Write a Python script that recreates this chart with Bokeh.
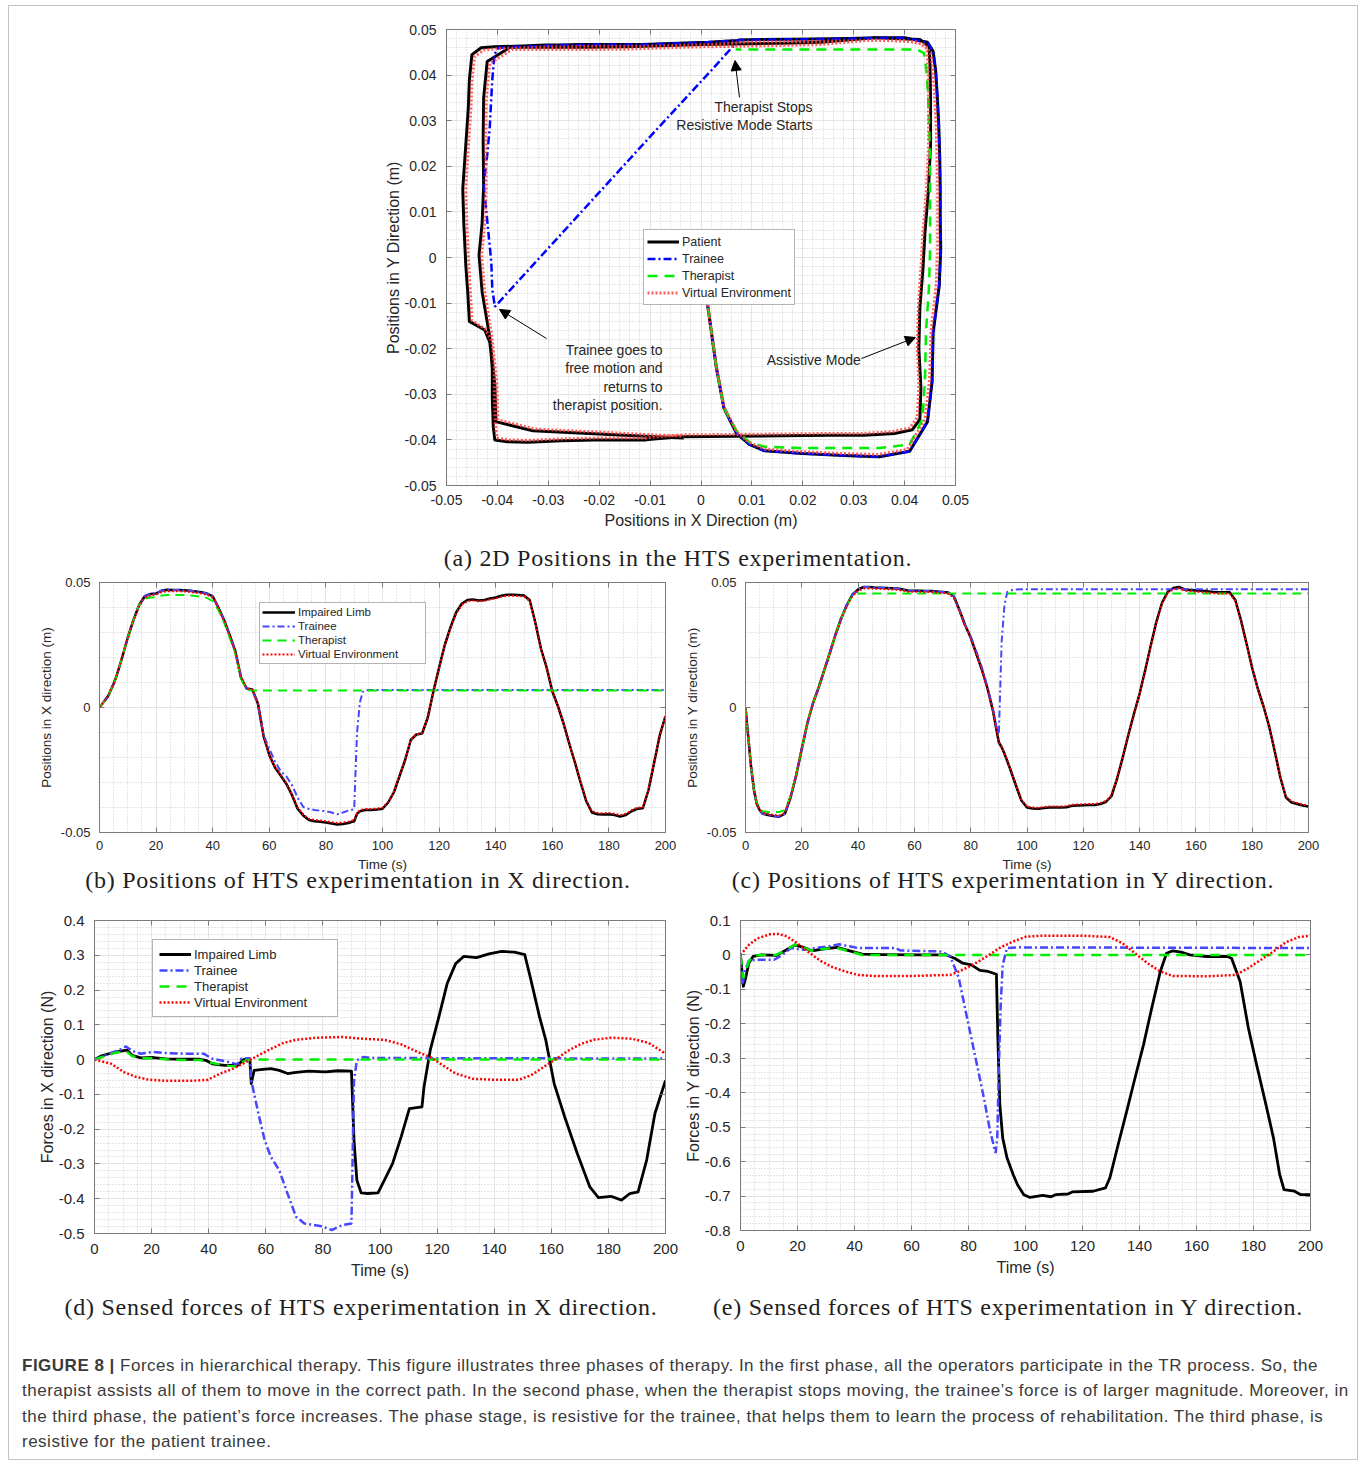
from bokeh.plotting import figure
from bokeh.models import (Range1d, FixedTicker, CustomJSTickFormatter, LinearAxis,
                          Legend, LegendItem, Label, Arrow, NormalHead, Div, Spacer)
from bokeh.layouts import column, row
from bokeh.embed import file_html
from bokeh.resources import INLINE

# ------------------------------------------------------------------ data
# common time grid (s) for the position records
t_pos = [0, 1, 2, 3, 4, 5, 6,
         8, 10, 12, 14, 16, 18, 20, 22, 24, 26,
         28, 30, 32, 34, 36, 38, 40, 42, 44, 46,
         48, 50, 52, 54, 56, 58, 60, 62, 64, 66,
         68, 70, 72, 74, 76, 78, 80, 82, 84, 86,
         88, 89, 90, 91, 92, 93, 94, 96, 98, 100,
         102, 104, 106, 108, 110, 112, 114, 116, 118, 120,
         122, 124, 126, 128, 130, 132, 134, 136, 138, 140,
         142, 144, 146, 148, 150, 152, 154, 156, 158, 160,
         162, 164, 166, 168, 170, 172, 174, 176, 178, 180,
         182, 184, 186, 188, 190, 192, 194, 196, 198, 200]

# positions (m) - patient / impaired limb
patient_x = [0.0, 0.0015, 0.0030, 0.0045, 0.0070, 0.0095, 0.0125,
             0.0200, 0.0280, 0.0350, 0.0410, 0.0445, 0.0454, 0.0456, 0.0468, 0.0471, 0.0470,
             0.0470, 0.0469, 0.0467, 0.0464, 0.0461, 0.0456, 0.0445, 0.0400, 0.0350, 0.0290,
             0.0225, 0.0120, 0.0076, 0.0072, 0.0015, -0.0116, -0.0190, -0.0240, -0.0272, -0.0305,
             -0.0350, -0.0405, -0.0432, -0.0450, -0.0455, -0.0457, -0.0460, -0.0464, -0.0468, -0.0466,
             -0.0462, -0.0458, -0.0455, -0.0425, -0.0415, -0.0412, -0.0410, -0.0410, -0.0408, -0.0405,
             -0.0380, -0.0340, -0.0275, -0.0210, -0.0130, -0.0108, -0.0104, -0.0040, 0.0065, 0.0160,
             0.0250, 0.0320, 0.0380, 0.0415, 0.0430, 0.0432, 0.0428, 0.0430, 0.0436, 0.0440,
             0.0447, 0.0451, 0.0451, 0.0450, 0.0448, 0.0430, 0.0340, 0.0235, 0.0160, 0.0065,
             0.0005, -0.0065, -0.0145, -0.0220, -0.0300, -0.0375, -0.0420, -0.0427, -0.0428, -0.0427,
             -0.0430, -0.0436, -0.0430, -0.0415, -0.0405, -0.0403, -0.0330, -0.0220, -0.0110, -0.0034]
patient_y = [0.0, -0.0120, -0.0240, -0.0330, -0.0386, -0.0410, -0.0424,
             -0.0430, -0.0434, -0.0437, -0.0425, -0.0360, -0.0272, -0.0165, -0.0062, 0.0018, 0.0080,
             0.0150, 0.0220, 0.0293, 0.0357, 0.0410, 0.0452, 0.0472, 0.0482, 0.0482, 0.0480,
             0.0479, 0.0478, 0.0477, 0.0476, 0.0472, 0.0467, 0.0467, 0.0467, 0.0466, 0.0466,
             0.0464, 0.0462, 0.0460, 0.0445, 0.0390, 0.0330, 0.0280, 0.0215, 0.0150, 0.0075,
             -0.0018, -0.0080, -0.0140, -0.0159, -0.0185, -0.0215, -0.0245, -0.0310, -0.0372, -0.0400,
             -0.0404, -0.0405, -0.0402, -0.0400, -0.0400, -0.0400, -0.0399, -0.0393, -0.0392, -0.0391,
             -0.0390, -0.0390, -0.0386, -0.0378, -0.0355, -0.0285, -0.0200, -0.0110, -0.0025, 0.0055,
             0.0150, 0.0250, 0.0345, 0.0420, 0.0463, 0.0478, 0.0482, 0.0472, 0.0470, 0.0468,
             0.0467, 0.0465, 0.0462, 0.0461, 0.0461, 0.0461, 0.0430, 0.0350, 0.0255, 0.0158,
             0.0075, 0.0005, -0.0075, -0.0175, -0.0280, -0.0360, -0.0380, -0.0386, -0.0392, -0.0396]

# positions (m) - trainee
trainee_x = [0.0, 0.0015, 0.0030, 0.0045, 0.0070, 0.0095, 0.0125,
             0.0200, 0.0280, 0.0350, 0.0410, 0.0445, 0.0454, 0.0456, 0.0468, 0.0471, 0.0470,
             0.0470, 0.0469, 0.0467, 0.0464, 0.0461, 0.0456, 0.0445, 0.0400, 0.0350, 0.0290,
             0.0225, 0.0120, 0.0076, 0.0072, 0.0010, -0.0110, -0.0165, -0.0215, -0.0255, -0.0275,
             -0.0310, -0.0360, -0.0398, -0.0406, -0.0410, -0.0413, -0.0415, -0.0420, -0.0427, -0.0420,
             -0.0412, -0.0410, -0.0405, -0.0100, 0.0020, 0.0062, 0.0069, 0.0070, 0.0070, 0.0070] + [0.0070] * 50
trainee_y = [0.0, -0.0120, -0.0240, -0.0330, -0.0386, -0.0410, -0.0424,
             -0.0430, -0.0434, -0.0437, -0.0425, -0.0360, -0.0272, -0.0165, -0.0062, 0.0018, 0.0080,
             0.0150, 0.0220, 0.0293, 0.0357, 0.0410, 0.0452, 0.0472, 0.0482, 0.0482, 0.0480,
             0.0479, 0.0478, 0.0477, 0.0476, 0.0472, 0.0467, 0.0467, 0.0467, 0.0466, 0.0466,
             0.0464, 0.0462, 0.0460, 0.0445, 0.0390, 0.0330, 0.0285, 0.0225, 0.0160, 0.0082,
             -0.0010, -0.0070, -0.0108, 0.0265, 0.0410, 0.0462, 0.0468, 0.0472, 0.0473, 0.0473] + [0.0473] * 50

# positions (m) - therapist
therapist_x = [0.0, 0.0015, 0.0030, 0.0045, 0.0070, 0.0095, 0.0125,
               0.0200, 0.0280, 0.0350, 0.0410, 0.0435, 0.0440, 0.0442, 0.0448, 0.0450, 0.0450,
               0.0450, 0.0450, 0.0448, 0.0446, 0.0443, 0.0438, 0.0425, 0.0390, 0.0340, 0.0280,
               0.0215, 0.0115, 0.0072, 0.0068] + [0.0068] * 76
therapist_y = [0.0, -0.0120, -0.0240, -0.0330, -0.0380, -0.0405, -0.0415,
               -0.0418, -0.0418, -0.0418, -0.0410, -0.0355, -0.0268, -0.0165, -0.0062, 0.0018, 0.0080,
               0.0150, 0.0220, 0.0293, 0.0357, 0.0408, 0.0448, 0.0456] + [0.0456] * 84

# positions (m) - virtual environment
virtual_x = [0.0, 0.0015, 0.0030, 0.0045, 0.0070, 0.0095, 0.0125,
             0.0200, 0.0280, 0.0348, 0.0405, 0.0440, 0.0449, 0.0452, 0.0462, 0.0465, 0.0465,
             0.0465, 0.0464, 0.0462, 0.0459, 0.0456, 0.0451, 0.0440, 0.0398, 0.0348, 0.0288,
             0.0222, 0.0120, 0.0076, 0.0072, 0.0015, -0.0114, -0.0188, -0.0238, -0.0268, -0.0302,
             -0.0347, -0.0400, -0.0427, -0.0445, -0.0450, -0.0452, -0.0455, -0.0459, -0.0462, -0.0460,
             -0.0456, -0.0453, -0.0450, -0.0424, -0.0411, -0.0408, -0.0406, -0.0406, -0.0404, -0.0401,
             -0.0377, -0.0338, -0.0273, -0.0208, -0.0129, -0.0107, -0.0103, -0.0040, 0.0064, 0.0158,
             0.0247, 0.0316, 0.0375, 0.0410, 0.0425, 0.0428, 0.0425, 0.0427, 0.0432, 0.0436,
             0.0443, 0.0447, 0.0447, 0.0446, 0.0444, 0.0426, 0.0337, 0.0233, 0.0158, 0.0064,
             0.0005, -0.0064, -0.0143, -0.0218, -0.0297, -0.0371, -0.0415, -0.0422, -0.0423, -0.0422,
             -0.0425, -0.0431, -0.0425, -0.0411, -0.0401, -0.0399, -0.0327, -0.0218, -0.0109, -0.0034]
virtual_y = [0.0, -0.0119, -0.0238, -0.0327, -0.0382, -0.0406, -0.0420,
             -0.0426, -0.0430, -0.0432, -0.0421, -0.0356, -0.0269, -0.0163, -0.0061, 0.0018, 0.0079,
             0.0149, 0.0218, 0.0290, 0.0353, 0.0406, 0.0447, 0.0467, 0.0476, 0.0476, 0.0475,
             0.0474, 0.0473, 0.0472, 0.0471, 0.0467, 0.0463, 0.0463, 0.0463, 0.0462, 0.0462,
             0.0460, 0.0458, 0.0455, 0.0440, 0.0386, 0.0327, 0.0277, 0.0213, 0.0149, 0.0074,
             -0.0018, -0.0079, -0.0138, -0.0157, -0.0183, -0.0212, -0.0242, -0.0307, -0.0368, -0.0396,
             -0.0400, -0.0401, -0.0398, -0.0396, -0.0396, -0.0396, -0.0395, -0.0389, -0.0388, -0.0387,
             -0.0386, -0.0386, -0.0382, -0.0374, -0.0351, -0.0282, -0.0198, -0.0109, -0.0025, 0.0054,
             0.0148, 0.0247, 0.0341, 0.0416, 0.0458, 0.0473, 0.0477, 0.0467, 0.0465, 0.0463,
             0.0462, 0.0460, 0.0457, 0.0456, 0.0456, 0.0456, 0.0426, 0.0347, 0.0252, 0.0156,
             0.0074, 0.0005, -0.0074, -0.0173, -0.0277, -0.0356, -0.0376, -0.0382, -0.0388, -0.0392]

# forces in X (N)
fx_limb_t = [0, 2.2, 5.9, 9.6, 11.5, 13.2, 16.2, 20.6, 25, 30.9, 36.8, 39, 41.2, 45.6, 50, 52.2, 54.4,
             54.9, 55.9, 58.1, 61.8, 64.7, 67.6, 70.6, 75, 80.9, 85.3, 90, 90.9, 91.9, 93.4, 95.6,
             99.3, 101.5, 104.4, 107.4, 110.3, 114.7, 115.4, 117.6, 120.6, 123.5, 126.5, 129.4,
             133.8, 138.2, 142.6, 147.1, 150.7, 152.9, 155.9, 158.1, 161, 164.7, 169.1, 173.5,
             176.5, 180.9, 184.6, 187.5, 190.4, 193.4, 196.3, 200]
fx_limb = [0, 0.010, 0.019, 0.025, 0.027, 0.012, 0.005, 0.006, 0.002, 0.001, 0.001, -0.002, -0.012,
           -0.0165, -0.017, 0.0, 0.003, -0.069, -0.031, -0.029, -0.026, -0.031, -0.040, -0.037,
           -0.033, -0.035, -0.032, -0.033, -0.232, -0.347, -0.383, -0.385, -0.383, -0.347, -0.299,
           -0.222, -0.141, -0.136, -0.079, 0.027, 0.122, 0.218, 0.276, 0.297, 0.293, 0.304, 0.311,
           0.309, 0.302, 0.228, 0.122, 0.055, -0.069, -0.165, -0.270, -0.366, -0.397, -0.393,
           -0.404, -0.385, -0.380, -0.289, -0.155, -0.060]
fx_trainee_t = [0, 4.4, 7.4, 9.6, 11, 13.2, 16.2, 20.6, 25, 30.9, 38.2, 41.2, 47, 50, 51.5, 54.4,
                54.9, 55.9, 57.4, 59.6, 61.8, 64.7, 67.6, 70.6, 73.5, 79.4, 83.1, 86.8, 90, 90.9,
                91.9, 94.1, 97.1, 200]
fx_trainee = [0, 0.015, 0.024, 0.031, 0.038, 0.025, 0.017, 0.022, 0.019, 0.017, 0.017, 0.003,
              -0.007, -0.0136, 0.003, 0.004, -0.060, -0.098, -0.155, -0.232, -0.280, -0.318,
              -0.385, -0.452, -0.471, -0.479, -0.490, -0.476, -0.471, -0.060, -0.002, 0.0075,
              0.0046, 0.003]
fx_therapist_t = [0, 4.4, 7.4, 9.6, 11, 13.2, 16.2, 20.6, 25, 30.9, 36.8, 41.2, 47, 50, 52.2, 54.4, 200]
fx_therapist = [0, 0.012, 0.020, 0.022, 0.024, 0.010, 0.004, 0.004, 0.001, -0.001, -0.001, -0.010,
                -0.018, -0.020, -0.005, 0.0, 0.0]
fx_virtual_t = [0, 5.9, 10.3, 14.7, 19.1, 25, 33.8, 39.7, 44.1, 48.5, 52.9, 57.4, 61.8, 66.2, 70.6,
                77.9, 86.8, 94.1, 101.5, 107.4, 113.2, 117.6, 122, 126.5, 132.4, 139.7, 148.5,
                152.9, 157.4, 161.8, 166.2, 170.6, 175, 180.9, 188.2, 194.1, 198.5, 200]
fx_virtual = [0, -0.012, -0.036, -0.050, -0.058, -0.061, -0.061, -0.058, -0.040, -0.026, -0.008,
              0.012, 0.031, 0.048, 0.057, 0.063, 0.065, 0.060, 0.057, 0.044, 0.022, 0.0075,
              -0.0165, -0.040, -0.055, -0.058, -0.058, -0.045, -0.021, 0.003, 0.027, 0.046, 0.057,
              0.063, 0.060, 0.048, 0.025, 0.017]

# forces in Y (N)
fy_limb_t = [0, 1, 1.8, 2.9, 4.4, 7.4, 12.5, 16.2, 19.1, 22.1, 25, 29.5, 33.9, 38.3, 42.7, 50, 60.4,
             72.2, 75.1, 78, 81, 84, 86.9, 89.8, 90.3, 91, 92, 93.5, 95.7, 97.2, 99.4, 101.6, 106,
             109, 110.5, 114.9, 116.4, 123.7, 128.1, 129.6, 132.5, 135.5, 138.4, 141.4, 144.3,
             147.3, 149.5, 151.7, 154.6, 157.6, 163.5, 170.8, 172.3, 175.3, 178.2, 181.1, 184.1,
             187, 189.2, 190.7, 194.4, 196.6, 200]
fy_limb = [0, -0.091, -0.067, -0.024, -0.0045, 0.0, -0.0015, 0.015, 0.029, 0.022, 0.012, 0.018,
           0.022, 0.012, 0.0024, 0.001, 0.0, 0.0, -0.0096, -0.024, -0.029, -0.045, -0.048, -0.056,
           -0.241, -0.435, -0.531, -0.589, -0.638, -0.667, -0.696, -0.704, -0.698, -0.702, -0.696,
           -0.694, -0.688, -0.686, -0.676, -0.647, -0.551, -0.454, -0.358, -0.261, -0.154, -0.048,
           0.005, 0.012, 0.008, 0.0, -0.0045, -0.0045, -0.0096, -0.077, -0.212, -0.319, -0.425,
           -0.531, -0.638, -0.681, -0.686, -0.696, -0.696]
fy_trainee_t = [0, 0.7, 1.5, 2.9, 5.9, 11.8, 14.7, 17.7, 22.1, 26.5, 30.9, 34.6, 38.3, 41.2, 54.5,
                56, 70.7, 73.6, 76.6, 79.5, 82.5, 85.4, 87.6, 89.5, 90.1, 90.6, 91.3, 92, 93.5,
                97.2, 200]
fy_trainee = [0, -0.087, -0.048, -0.017, -0.014, -0.014, 0.0, 0.020, 0.015, 0.020, 0.025, 0.031,
              0.025, 0.020, 0.020, 0.013, 0.010, -0.0045, -0.067, -0.183, -0.300, -0.415, -0.512,
              -0.575, -0.531, -0.338, -0.145, -0.029, 0.020, 0.022, 0.020]
fy_therapist_t = [0, 1, 2.9, 4.4, 7.4, 12.5, 16.2, 19.1, 22.1, 25, 29.5, 33.9, 38.3, 42.7, 200]
fy_therapist = [0, -0.067, -0.020, -0.002, 0.0, 0.0, 0.015, 0.030, 0.022, 0.012, 0.018, 0.020,
                0.010, 0.0, 0.0]
fy_virtual_t = [0, 2.9, 5.9, 10.3, 13.3, 16.2, 19.1, 23.6, 28, 32.4, 36.8, 41.2, 47.1, 60.4, 73.6,
                78, 82.5, 86.9, 91.3, 95.7, 100.1, 106, 119.3, 129.6, 134, 138.4, 142.8, 147.3,
                151.7, 163.5, 173.8, 178.2, 182.6, 187, 191.4, 195.9, 200]
fy_virtual = [0, 0.029, 0.048, 0.060, 0.061, 0.054, 0.039, 0.010, -0.017, -0.036, -0.048, -0.058,
              -0.061, -0.061, -0.058, -0.043, -0.024, -0.0015, 0.022, 0.039, 0.053, 0.056, 0.056,
              0.052, 0.034, 0.005, -0.024, -0.048, -0.061, -0.062, -0.058, -0.038, -0.014, 0.010,
              0.037, 0.052, 0.056]

# tick labels
pos2d_ticks = [-0.05, -0.04, -0.03, -0.02, -0.01, 0, 0.01, 0.02, 0.03, 0.04, 0.05]
time_ticks = [0, 20, 40, 60, 80, 100, 120, 140, 160, 180, 200]
pos_ticks = [-0.05, 0, 0.05]
fx_ticks = [-0.5, -0.4, -0.3, -0.2, -0.1, 0, 0.1, 0.2, 0.3, 0.4]
fy_ticks = [-0.8, -0.7, -0.6, -0.5, -0.4, -0.3, -0.2, -0.1, 0, 0.1]

legend_a = ["Patient", "Trainee", "Therapist", "Virtual Environment"]
legend_t = ["Impaired Limb", "Trainee", "Therapist", "Virtual Environment"]

# ------------------------------------------------------------------ styling
FONT = "Liberation Sans"
SERIF = "Liberation Serif"
TXT = "#262626"
AXC = "#7a7a7a"
GRID = "#e4e4e4"
MINOR = "#cdcdcd"


def steps(a, b, d):
    n = int(round((b - a) / d))
    return [round(a + i * d, 6) for i in range(n + 1)]


def make_fig(fw, fh, xr, yr, borders, xt, xm, yt, ym, tick_fs, lab_fs,
             xlabel, ylabel, x_std, x_lab_std, y_std, y_lab_std):
    bl, br, bt, bb = borders
    p = figure(frame_width=fw, frame_height=fh,
               x_range=Range1d(*xr), y_range=Range1d(*yr),
               output_backend="svg", toolbar_location=None,
               min_border_left=bl, min_border_right=br,
               min_border_top=bt, min_border_bottom=bb,
               background_fill_color="white", border_fill_color="white", margin=0)
    fmt = CustomJSTickFormatter(code="return String(Math.round(tick*1000)/1000);")
    xtick = FixedTicker(ticks=xt, minor_ticks=xm)
    ytick = FixedTicker(ticks=yt, minor_ticks=ym)
    p.xaxis.ticker = xtick
    p.yaxis.ticker = ytick
    p.xgrid.ticker = xtick
    p.ygrid.ticker = ytick
    for g in (p.xgrid[0], p.ygrid[0]):
        g.grid_line_color = GRID
        g.grid_line_width = 1
        g.minor_grid_line_color = MINOR
        g.minor_grid_line_dash = "1 2"
        g.minor_grid_line_width = 1
    for ax, std, lstd in ((p.xaxis[0], x_std, x_lab_std), (p.yaxis[0], y_std, y_lab_std)):
        ax.formatter = fmt
        ax.major_label_text_font = FONT
        ax.major_label_text_font_size = tick_fs
        ax.major_label_text_color = TXT
        ax.axis_label_text_font = FONT
        ax.axis_label_text_font_size = lab_fs
        ax.axis_label_text_font_style = "normal"
        ax.axis_label_text_color = TXT
        ax.axis_line_color = AXC
        ax.major_tick_line_color = AXC
        ax.major_tick_in = 5
        ax.major_tick_out = 0
        ax.minor_tick_line_color = None
        ax.major_label_standoff = std
        ax.axis_label_standoff = lstd
    p.xaxis.axis_label = xlabel
    p.yaxis.axis_label = ylabel
    empty = CustomJSTickFormatter(code="return '';")
    for side, tk in (("right", ytick), ("above", xtick)):
        ax = LinearAxis(ticker=tk, formatter=empty, major_label_text_font_size="1px",
                        major_label_standoff=0, major_tick_in=5, major_tick_out=0,
                        minor_tick_line_color=None, axis_line_color=AXC,
                        major_tick_line_color=AXC)
        p.add_layout(ax, side)
    p.outline_line_color = AXC
    return p


def add_legend(p, items, labels, loc, fs, h, pad, gw, lw):
    leg = Legend(items=[LegendItem(label=l, renderers=[r]) for l, r in zip(labels, items)],
                 location=loc, label_text_font=FONT, label_text_font_size=fs,
                 label_text_color=TXT, label_height=h, glyph_height=h, glyph_width=gw,
                 label_width=lw, label_standoff=3, padding=pad, spacing=0, margin=0,
                 border_line_color="#6a6a6a", border_line_width=1,
                 background_fill_color="white", background_fill_alpha=1.0)
    p.add_layout(leg)


# ------------------------------------------------------------------ (a) 2D positions
pa = make_fig(509, 456, (-0.05, 0.05), (-0.05, 0.05), (70, 15, 23, 50),
              pos2d_ticks, steps(-0.05, 0.05, 0.002), pos2d_ticks, steps(-0.05, 0.05, 0.002),
              "14px", "16px", "Positions in X Direction (m)", "Positions in Y Direction (m)",
              5, 4, 6, 0)
ra1 = pa.line(patient_x, patient_y, line_color="black", line_width=3, line_join="round")
ra2 = pa.line(trainee_x, trainee_y, line_color="#0000ff", line_width=2.5, line_dash="8 3 2 3")
ra3 = pa.line(therapist_x, therapist_y, line_color="#00ee00", line_width=2.5, line_dash="10 7")
ra4 = pa.line(virtual_x, virtual_y, line_color="#ff4040", line_width=3, line_dash="2 2", line_alpha=0.85)
add_legend(pa, [ra1, ra2, ra3, ra4], legend_a, (197, 180), "12.5px", 17, 3, 32, 20)

for txt, x, y, al in [("Therapist Stops", 0.0219, 0.0329, "right"),
                      ("Resistive Mode Starts", 0.0219, 0.02895, "right"),
                      ("Trainee goes to", -0.00756, -0.0202, "right"),
                      ("free motion and", -0.00756, -0.0242, "right"),
                      ("returns to", -0.00756, -0.0283, "right"),
                      ("therapist position.", -0.00756, -0.0323, "right"),
                      ("Assistive Mode", 0.0129, -0.0225, "left")]:
    pa.add_layout(Label(x=x, y=y, text=txt, text_align=al, text_baseline="middle",
                        text_font=FONT, text_font_size="14px", text_color=TXT))
for xs, ys, xe, ye in [(0.00756, 0.0351, 0.00668, 0.0432),
                       (-0.03035, -0.01776, -0.03959, -0.0114),
                       (0.03153, -0.02215, 0.04214, -0.01754)]:
    pa.add_layout(Arrow(end=NormalHead(size=10, fill_color="black", line_color="black", line_width=1),
                        x_start=xs, y_start=ys, x_end=xe, y_end=ye,
                        line_color="black", line_width=1))

# ------------------------------------------------------------------ (b), (c) positions vs time
TB = "#4646ff"


def pos_lines(p, comp_p, comp_t, comp_th, comp_v):
    r1 = p.line(t_pos, comp_p, line_color="black", line_width=2.5, line_join="round")
    r2 = p.line(t_pos, comp_t, line_color=TB, line_width=2, line_dash="7 3 2 3")
    r3 = p.line(t_pos, comp_th, line_color="#00ee00", line_width=2, line_dash="9 6")
    r4 = p.line(t_pos, comp_v, line_color="#ff0000", line_width=2, line_dash="2 2")
    return [r1, r2, r3, r4]


pb = make_fig(566, 250, (0, 200), (-0.05, 0.05), (90, 14, 10, 44),
              time_ticks, steps(0, 200, 5), pos_ticks, steps(-0.05, 0.05, 0.01),
              "13px", "13.5px", "Time (s)", "Positions in X direction (m)", 4, 4, 5, 4)
rb = pos_lines(pb, patient_x, trainee_x, therapist_x, virtual_x)
add_legend(pb, rb, legend_t, (160, 168), "11.5px", 14, 2, 33, 125)

pc = make_fig(563, 250, (0, 200), (-0.05, 0.05), (66, 48, 10, 44),
              time_ticks, steps(0, 200, 5), pos_ticks, steps(-0.05, 0.05, 0.01),
              "13px", "13.5px", "Time (s)", "Positions in Y direction (m)", 4, 4, 5, 4)
pos_lines(pc, patient_y, trainee_y, therapist_y, virtual_y)

# ------------------------------------------------------------------ (d), (e) forces


def force_lines(p, d):
    (tl, vl), (tt, vt), (th, vh), (tv, vv) = d
    r1 = p.line(tl, vl, line_color="black", line_width=2.8, line_join="round")
    r2 = p.line(tt, vt, line_color=TB, line_width=2.5, line_dash="8 3 2 3")
    r3 = p.line(th, vh, line_color="#00ee00", line_width=2.5, line_dash="10 7")
    r4 = p.line(tv, vv, line_color="#ff0000", line_width=2.5, line_dash="2 2")
    return [r1, r2, r3, r4]


pd_ = make_fig(571, 313, (0, 200), (-0.5, 0.4), (85, 16, 23, 54),
               time_ticks, steps(0, 200, 5), fx_ticks, steps(-0.5, 0.4, 0.02),
               "15px", "16px", "Time (s)", "Forces in X direction (N)", 6, 5, 6, 0)
rd = force_lines(pd_, [(fx_limb_t, fx_limb), (fx_trainee_t, fx_trainee),
                       (fx_therapist_t, fx_therapist), (fx_virtual_t, fx_virtual)])
add_legend(pd_, rd, legend_t, (58, 216), "13px", 16, 6, 32, 137)

pe = make_fig(570, 310, (0, 200), (-0.8, 0.1), (58, 47, 25, 55),
              time_ticks, steps(0, 200, 5), fy_ticks, steps(-0.8, 0.1, 0.02),
              "15px", "16px", "Time (s)", "Forces in Y direction (N)", 6, 5, 6, 0)
force_lines(pe, [(fy_limb_t, fy_limb), (fy_trainee_t, fy_trainee),
                 (fy_therapist_t, fy_therapist), (fy_virtual_t, fy_virtual)])

# ------------------------------------------------------------------ captions


def cap(text, w, h, pad, dy=0):
    html = ('<div style="position:relative;top:%dpx;width:%dpx;text-align:center;'
            'font-family:\'%s\';font-size:24px;line-height:24px;padding-top:%dpx;color:#1e1e1e;'
            'white-space:nowrap;letter-spacing:0.75px">%s</div>' % (dy, w, SERIF, pad, text))
    return Div(text=html, width=w, height=h, margin=0)


cap_a = cap("(a) 2D Positions in the HTS experimentation.", 1338, 37, 11)
cap_b = cap("(b) Positions of HTS experimentation in X direction.", 698, 19, 0, -8)
cap_c = cap("(c) Positions of HTS experimentation in Y direction.", 592, 19, 0, -8)
cap_d = cap("(d) Sensed forces of HTS experimentation in X direction.", 704, 45, 10)
cap_e = cap("(e) Sensed forces of HTS experimentation in Y direction.", 580, 45, 10)

fig_caption = ("<b>FIGURE 8 |</b> Forces in hierarchical therapy. This figure illustrates three phases of therapy. "
               "In the first phase, all the operators participate in the TR process. So, the<br>"
               "therapist assists all of them to move in the correct path. In the second phase, when the "
               "therapist stops moving, the trainee\u2019s force is of larger magnitude. Moreover, in<br>"
               "the third phase, the patient\u2019s force increases. The phase stage, is resistive for the "
               "trainee, that helps them to learn the process of rehabilitation. The third phase, is<br>"
               "resistive for the patient trainee.")
cap_fig = Div(text=('<div style="font-family:\'%s\';font-size:17px;line-height:25.3px;color:#3a3a3a;'
                    'letter-spacing:0.5px;padding-top:23px;padding-left:13px;white-space:nowrap">%s</div>'
                    % (FONT, fig_caption)),
              width=1348, height=129, margin=0)

layout = column(
    row(Spacer(width=367, height=10, margin=0), pa, margin=0),
    cap_a,
    row(pb, pc, margin=0),
    row(cap_b, cap_c, margin=0),
    row(pd_, pe, margin=0),
    row(cap_d, cap_e, margin=0),
    cap_fig,
    margin=(5, 0, 0, 8),
    styles={"border": "1px solid #c4c4c4"},
)

open("out.html", "w").write(file_html(layout, INLINE, title="Figure 8"))
